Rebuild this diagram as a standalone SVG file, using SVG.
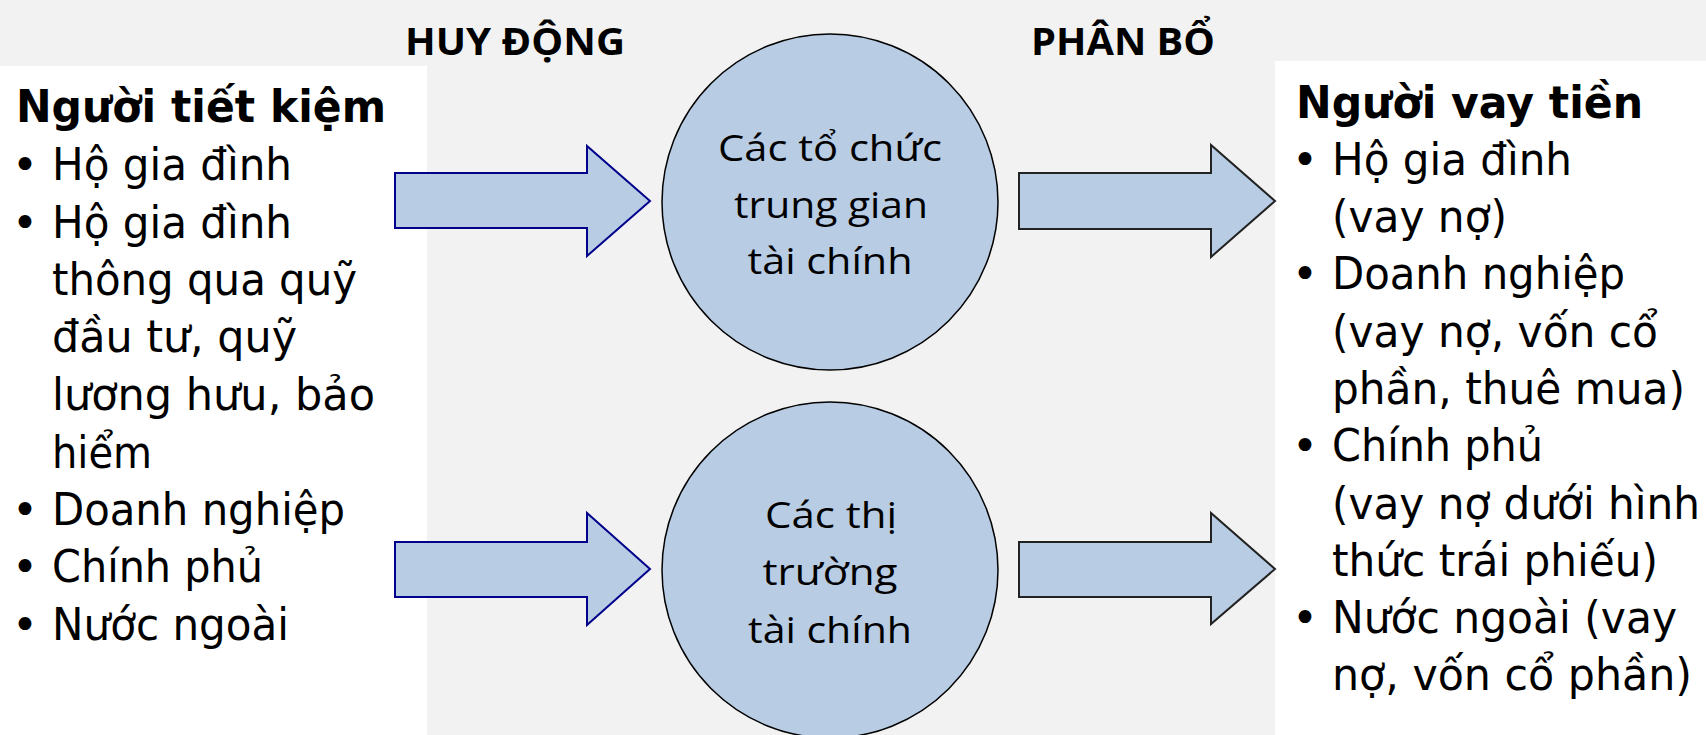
<svg xmlns="http://www.w3.org/2000/svg" width="1706" height="735" viewBox="0 0 1706 735">
<style>
.t{font-family:"DejaVu Sans","Liberation Sans",sans-serif;font-size:44px;fill:#000}
.h{font-family:"DejaVu Sans","Liberation Sans",sans-serif;font-size:44px;font-weight:bold;fill:#000}
.c{font-family:"Open Sans","Noto Sans",sans-serif;font-size:37px;fill:#000;text-anchor:middle}
.k{font-family:"Open Sans","Noto Sans",sans-serif;font-size:37px;font-weight:bold;fill:#000}
.b{font-family:"DejaVu Sans",sans-serif;font-size:44px;fill:#000;text-anchor:middle}
.node{fill:#b8cce4;stroke:#000;stroke-width:1.5}
.al{fill:#b8cce4;stroke:#00008b;stroke-width:2}
.ar{fill:#b8cce4;stroke:#222;stroke-width:2}
</style>
<rect x="0" y="0" width="1706" height="735" fill="#f2f2f2"/>
<g id="titles">
<text class="k" x="405" y="55" textLength="220" lengthAdjust="spacingAndGlyphs">HUY ĐỘNG</text>
<text class="k" x="1031" y="55" textLength="184" lengthAdjust="spacingAndGlyphs">PHÂN BỔ</text>
</g>
<g id="savers">
<rect x="0" y="66" width="427" height="669" fill="#fff"/>
<text class="h" x="16" y="122" textLength="370" lengthAdjust="spacingAndGlyphs">Người tiết kiệm</text>
<text class="b" x="25" y="180">•</text>
<text class="t" x="52" y="180" textLength="240" lengthAdjust="spacingAndGlyphs">Hộ gia đình</text>
<text class="b" x="25" y="238">•</text>
<text class="t" x="52" y="238" textLength="240" lengthAdjust="spacingAndGlyphs">Hộ gia đình</text>
<text class="t" x="52" y="295" textLength="305" lengthAdjust="spacingAndGlyphs">thông qua quỹ</text>
<text class="t" x="52" y="352" textLength="245" lengthAdjust="spacingAndGlyphs">đầu tư, quỹ</text>
<text class="t" x="52" y="410" textLength="323" lengthAdjust="spacingAndGlyphs">lương hưu, bảo</text>
<text class="t" x="52" y="468" textLength="100" lengthAdjust="spacingAndGlyphs">hiểm</text>
<text class="b" x="25" y="525">•</text>
<text class="t" x="52" y="525" textLength="293" lengthAdjust="spacingAndGlyphs">Doanh nghiệp</text>
<text class="b" x="25" y="582">•</text>
<text class="t" x="52" y="582" textLength="211" lengthAdjust="spacingAndGlyphs">Chính phủ</text>
<text class="b" x="25" y="640">•</text>
<text class="t" x="52" y="640" textLength="237" lengthAdjust="spacingAndGlyphs">Nước ngoài</text>
</g>
<g id="borrowers">
<rect x="1275" y="61" width="431" height="674" fill="#fff"/>
<text class="h" x="1296" y="118" textLength="347" lengthAdjust="spacingAndGlyphs">Người vay tiền</text>
<text class="b" x="1305" y="175">•</text>
<text class="t" x="1332" y="175" textLength="240" lengthAdjust="spacingAndGlyphs">Hộ gia đình</text>
<text class="t" x="1332" y="232" textLength="175" lengthAdjust="spacingAndGlyphs">(vay nợ)</text>
<text class="b" x="1305" y="289">•</text>
<text class="t" x="1332" y="289" textLength="293" lengthAdjust="spacingAndGlyphs">Doanh nghiệp</text>
<text class="t" x="1332" y="347" textLength="326" lengthAdjust="spacingAndGlyphs">(vay nợ, vốn cổ</text>
<text class="t" x="1332" y="404" textLength="353" lengthAdjust="spacingAndGlyphs">phần, thuê mua)</text>
<text class="b" x="1305" y="461">•</text>
<text class="t" x="1332" y="461" textLength="211" lengthAdjust="spacingAndGlyphs">Chính phủ</text>
<text class="t" x="1332" y="519" textLength="368" lengthAdjust="spacingAndGlyphs">(vay nợ dưới hình</text>
<text class="t" x="1332" y="576" textLength="326" lengthAdjust="spacingAndGlyphs">thức trái phiếu)</text>
<text class="b" x="1305" y="633">•</text>
<text class="t" x="1332" y="633" textLength="345" lengthAdjust="spacingAndGlyphs">Nước ngoài (vay</text>
<text class="t" x="1332" y="690" textLength="360" lengthAdjust="spacingAndGlyphs">nợ, vốn cổ phần)</text>
</g>
<g id="intermediaries">
<circle class="node" cx="830" cy="202" r="168"/>
<text class="c" x="830" y="161" textLength="224" lengthAdjust="spacingAndGlyphs">Các tổ chức</text>
<text class="c" x="831" y="218" textLength="194" lengthAdjust="spacingAndGlyphs">trung gian</text>
<text class="c" x="830" y="274" textLength="165" lengthAdjust="spacingAndGlyphs">tài chính</text>
</g>
<g id="markets">
<circle class="node" cx="830" cy="570" r="168"/>
<text class="c" x="831" y="528" textLength="132" lengthAdjust="spacingAndGlyphs">Các thị</text>
<text class="c" x="830" y="585" textLength="135" lengthAdjust="spacingAndGlyphs">trường</text>
<text class="c" x="830" y="643" textLength="164" lengthAdjust="spacingAndGlyphs">tài chính</text>
</g>
<g id="connectors">
<polygon class="al" points="395,173 587,173 587,146 650,201 587,256 587,228 395,228"/>
<polygon class="al" points="395,542 587,542 587,513 650,569 587,625 587,597 395,597"/>
<polygon class="ar" points="1019,173 1211,173 1211,145 1275,201 1211,257 1211,229 1019,229"/>
<polygon class="ar" points="1019,542 1211,542 1211,513 1275,569 1211,624 1211,597 1019,597"/>
</g>
</svg>
